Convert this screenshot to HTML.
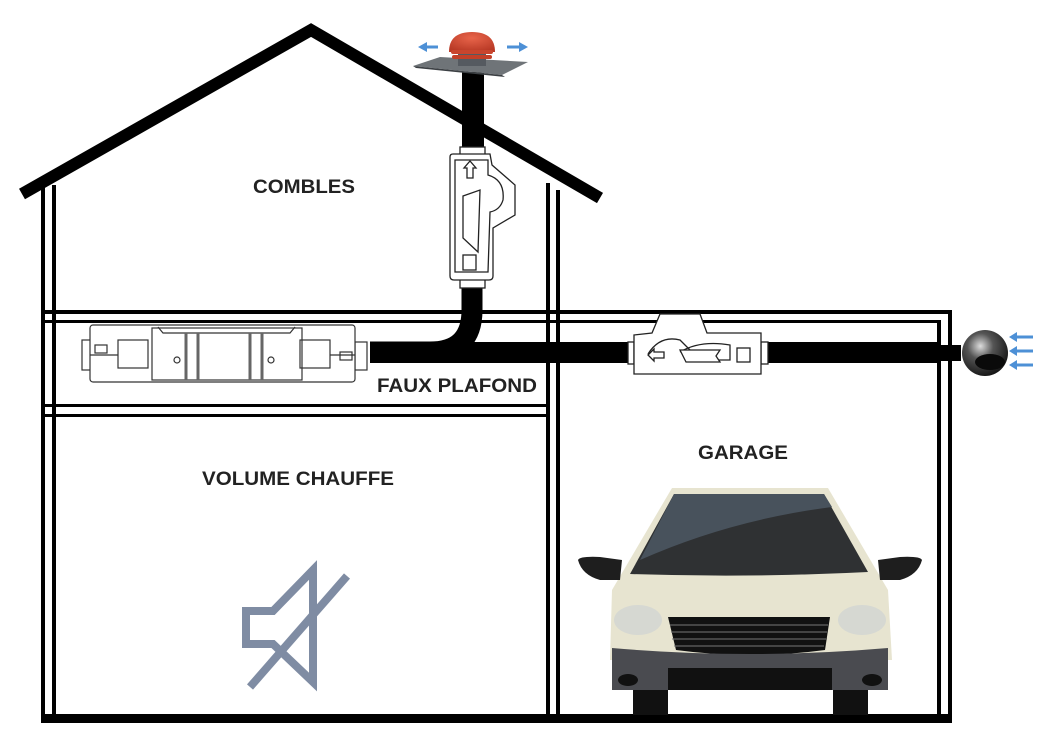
<!DOCTYPE html>
<html><head><meta charset="utf-8"><style>
html,body{margin:0;padding:0;background:#fff;}
svg{display:block;}
text{font-family:"Liberation Sans",Arial,sans-serif;font-weight:bold;fill:#222;}
</style></head><body>
<svg width="1040" height="739" viewBox="0 0 1040 739" xmlns="http://www.w3.org/2000/svg">
<defs>
<radialGradient id="gr" cx="0.4" cy="0.35" r="0.7"><stop offset="0" stop-color="#ddd"/><stop offset="0.4" stop-color="#555"/><stop offset="1" stop-color="#111"/></radialGradient>
<radialGradient id="red" cx="0.5" cy="0.3" r="0.7"><stop offset="0" stop-color="#e8644a"/><stop offset="1" stop-color="#b93a26"/></radialGradient>
</defs>
<g fill="#000">
<rect x="41" y="182" width="4" height="538"/>
<rect x="52" y="185" width="4" height="535"/>
<rect x="546" y="183" width="4" height="537"/>
<rect x="556" y="190" width="4" height="530"/>
<rect x="937" y="320" width="4" height="400"/>
<rect x="948" y="310" width="4" height="412"/>
<rect x="41" y="310" width="911" height="4"/>
<rect x="41" y="320" width="900" height="3"/>
<rect x="41" y="404" width="509" height="3"/>
<rect x="41" y="414" width="509" height="3"/>
<rect x="41" y="714" width="911" height="9"/>
</g>
<polyline points="22,194 311,30 600,198" fill="none" stroke="#000" stroke-width="12" stroke-linejoin="miter"/>
<rect x="462" y="72" width="22" height="80" fill="#000"/>
<path d="M472 285 L472 310 Q472 352 430 352 L370 352" fill="none" stroke="#000" stroke-width="21"/>
<rect x="370" y="342" width="570" height="21" fill="#000"/>
<rect x="941" y="345" width="20" height="16" fill="#000"/>
<polygon points="413,66 440,57 528,62 502,75" fill="#6f7478"/>
<polygon points="413,66 502,75 505,77 416,68" fill="#3c4044"/>
<rect x="458" y="52" width="28" height="14" fill="#555a60"/>
<path d="M449 52 Q449 32 472 32 Q495 32 495 52 Z" fill="url(#red)"/>
<rect x="451" y="50" width="42" height="4" rx="2" fill="#c9452d"/>
<rect x="452" y="55" width="40" height="4" rx="2" fill="#c34028"/>
<g stroke="#4d90d6" stroke-width="3" fill="#4d90d6">
<line x1="426" y1="47" x2="438" y2="47"/><polygon points="418,47 427,42 427,52" stroke="none"/>
<line x1="507" y1="47" x2="520" y2="47"/><polygon points="528,47 519,42 519,52" stroke="none"/>
</g>
<g fill="#fff" stroke="#222" stroke-width="1.3">
<rect x="460" y="147" width="25" height="8"/>
<rect x="460" y="279" width="25" height="9"/>
<path d="M450 157 Q450 154 453 154 L490 154 L492 165 L515 185 L515 215 L493 228 L493 276 Q493 280 489 280 L454 280 Q450 280 450 276 Z"/>
<path d="M455 160 L488 160 L488 175 Q505 180 503 200 Q500 210 490 212 L488 272 L455 272 Z" fill="none"/>
<path d="M463 196 L480 190 L478 252 L463 238 Z"/>
<rect x="463" y="255" width="13" height="15"/>
<path d="M467 178 L467 168 L464 168 L470 161 L476 168 L473 168 L473 178 Z"/>
</g>
<g fill="#fff" stroke="#222" stroke-width="1.3">
<rect x="628" y="342" width="6" height="22"/>
<rect x="761" y="342" width="7" height="22"/>
<path d="M634 335 L652 333 L660 314 L700 314 L707 333 L761 333 L761 374 L634 374 Z"/>
<path d="M648 354 Q660 335 680 340 L700 360 L730 360 L730 345 Q700 340 680 352" fill="none"/>
<path d="M680 350 L720 350 L716 356 L720 362 L686 362 Z"/>
<path d="M648 355 L654 349 L654 352 L664 352 L664 358 L654 358 L654 361 Z"/>
<rect x="737" y="348" width="13" height="14"/>
</g>
<circle cx="985" cy="353" r="23" fill="url(#gr)"/>
<ellipse cx="990" cy="362" rx="15" ry="8" fill="#0a0a0a"/>
<g stroke="#4d90d6" stroke-width="3" fill="#4d90d6">
<line x1="1016" y1="337" x2="1033" y2="337"/><polygon points="1009,337 1017,332 1017,342" stroke="none"/>
<line x1="1016" y1="351" x2="1033" y2="351"/><polygon points="1009,351 1017,346 1017,356" stroke="none"/>
<line x1="1016" y1="365" x2="1033" y2="365"/><polygon points="1009,365 1017,360 1017,370" stroke="none"/>
</g>
<g fill="#fff" stroke="#333" stroke-width="1.2">
<rect x="82" y="340" width="10" height="30"/>
<rect x="355" y="342" width="12" height="28"/>
<rect x="90" y="325" width="265" height="57" rx="3"/>
<rect x="118" y="340" width="30" height="28"/>
<rect x="300" y="340" width="30" height="28"/>
<rect x="152" y="328" width="150" height="52" fill="none"/>
<path d="M158 327 L163 333 L290 333 L295 327" fill="none"/>
<line x1="186" y1="333" x2="186" y2="380" stroke-width="3" stroke="#666"/>
<line x1="198" y1="333" x2="198" y2="380" stroke-width="3" stroke="#666"/>
<line x1="250" y1="333" x2="250" y2="380" stroke-width="3" stroke="#666"/>
<line x1="262" y1="333" x2="262" y2="380" stroke-width="3" stroke="#666"/>
<circle cx="177" cy="360" r="3"/><circle cx="271" cy="360" r="3"/>
<rect x="95" y="345" width="12" height="8"/><rect x="340" y="352" width="12" height="8"/>
<line x1="90" y1="355" x2="118" y2="355"/>
<line x1="330" y1="355" x2="355" y2="355"/>
</g>
<text x="253" y="193" font-size="19" textLength="102" lengthAdjust="spacingAndGlyphs">COMBLES</text>
<text x="377" y="392" font-size="19" textLength="160" lengthAdjust="spacingAndGlyphs">FAUX PLAFOND</text>
<text x="202" y="485" font-size="19" textLength="192" lengthAdjust="spacingAndGlyphs">VOLUME CHAUFFE</text>
<text x="698" y="459" font-size="19" textLength="90" lengthAdjust="spacingAndGlyphs">GARAGE</text>
<g fill="none" stroke="#7f8ca3" stroke-width="8" stroke-linejoin="miter">
<path d="M246 611 L273 611 L313 570 L313 682 L273 644 L246 644 Z"/>
<line x1="250" y1="687" x2="347" y2="576"/>
</g>
<g>
<rect x="633" y="680" width="35" height="35" fill="#111"/>
<rect x="833" y="680" width="35" height="35" fill="#111"/>
<path d="M672 488 L828 488 L868 556 L888 590 L892 660 L610 660 L612 590 L632 556 Z" fill="#e7e4d0"/>
<path d="M674 494 L824 494 L868 572 Q750 578 630 574 Z" fill="#2f3133"/>
<path d="M674 494 L824 494 L832 507 Q730 520 640 560 Z" fill="#48525c"/>
<path d="M578 560 Q580 556 600 557 L622 560 L620 580 L600 580 Q582 575 578 560 Z" fill="#1e1e1e"/>
<path d="M922 560 Q920 556 900 557 L878 560 L880 580 L900 580 Q918 575 922 560 Z" fill="#1e1e1e"/>
<ellipse cx="638" cy="620" rx="24" ry="15" fill="#d6d8d2"/>
<ellipse cx="862" cy="620" rx="24" ry="15" fill="#d6d8d2"/>
<path d="M668 617 L830 617 L825 650 Q750 660 676 650 Z" fill="#111"/>
<g stroke="#777" stroke-width="1"><line x1="670" y1="625" x2="828" y2="625"/><line x1="671" y1="632" x2="827" y2="632"/><line x1="672" y1="639" x2="826" y2="639"/><line x1="674" y1="646" x2="824" y2="646"/></g>
<path d="M612 648 Q750 660 888 648 L888 690 L612 690 Z" fill="#4a4b50"/>
<rect x="668" y="668" width="164" height="22" fill="#111"/>
<ellipse cx="628" cy="680" rx="10" ry="6" fill="#111"/>
<ellipse cx="872" cy="680" rx="10" ry="6" fill="#111"/>
</g>
</svg>
</body></html>
